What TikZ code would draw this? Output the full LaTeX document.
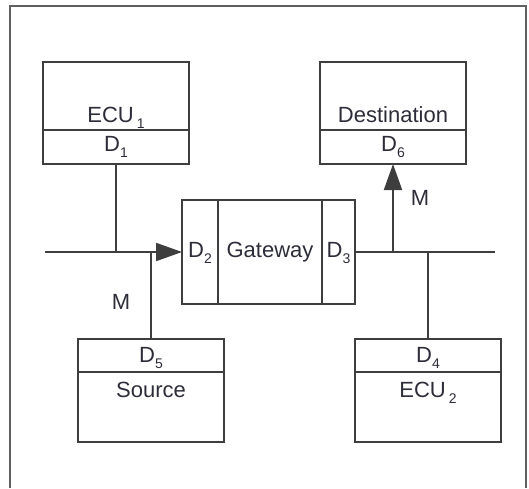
\documentclass[tikz,border=0pt]{standalone}
\usepackage{fontspec}
\setmainfont{Liberation Sans}
\usetikzlibrary{arrows.meta, positioning}
\definecolor{linegray}{RGB}{62,62,62}
\definecolor{framegray}{RGB}{95,95,95}
\definecolor{txtgray}{RGB}{45,45,58}
\newcommand{\portidx}[1]{\raisebox{-3pt}{\fontsize{7}{8}\selectfont #1}}
\tikzset{
  part/.style={draw=linegray, line width=1pt, inner sep=0pt, outer sep=0pt,
    minimum width=73pt, font=\fontsize{11}{13}\selectfont, text=txtgray},
  namepart/.style={part, text height=30pt, text depth=4pt},
  portpart/.style={part, text height=10.5pt, text depth=6.5pt},
  lowport/.style={part, text height=11.5pt, text depth=5pt},
  lowname/.style={part, text height=12.5pt, text depth=22.5pt},
  gwpart/.style={part, minimum width=0pt, text height=28.5pt, text depth=23.5pt},
  link/.style={line width=1pt, color=linegray},
  msgarrow/.style={link, -{Triangle[length=13pt, width=9pt]}},
  msglabel/.style={font=\fontsize{11}{13}\selectfont, text=txtgray, inner sep=0pt}
}

\begin{document}
\begin{tikzpicture}[x=0.5pt, y=-0.5pt]
  \useasboundingbox (0,0) rectangle (529,488);
  % Outer frame, open at the bottom
  \draw[line width=1pt, color=framegray] (10,488) -- (10,6) -- (526,6) -- (526,488);

  % Upper units
  \node[namepart, anchor=north west] (ecuAname) at (43,62) {ECU\kern1.5pt\portidx{1}};
  \node[portpart, below=0pt of ecuAname] (ecuAport) {D\portidx{1}};
  \node[namepart, anchor=north west] (dstName) at (320,62) {Destination};
  \node[portpart, below=0pt of dstName] (dstPort) {D\portidx{6}};

  % Gateway
  \node[gwpart, minimum width=52pt] (gwCore) at (270,252) {Gateway};
  \node[gwpart, minimum width=18pt, left=0pt of gwCore] (gwIn) {D\portidx{2}};
  \node[gwpart, minimum width=16.5pt, right=0pt of gwCore] (gwOut) {D\portidx{3}};

  % Lower units
  \node[lowport, anchor=north west] (srcPort) at (78,339) {D\portidx{5}};
  \node[lowname, below=0pt of srcPort] (srcName) {Source};
  \node[lowport, anchor=north west] (ecuBport) at (355,339) {D\portidx{4}};
  \node[lowname, below=0pt of ecuBport] (ecuBname) {ECU\kern1.5pt\portidx{2}};

  % Bus segments
  \coordinate (busL) at (45,252);
  \coordinate (busR) at (495,252);
  \draw[msgarrow] (busL) -- (gwIn.west);
  \draw[link] (gwOut.east) -- (busR);

  % Stubs to the bus
  \draw[link] (ecuAport.south) -- (ecuAport.south |- busL);
  \draw[link] (srcPort.north) -- (srcPort.north |- busL);
  \draw[link] (ecuBport.north) -- (ecuBport.north |- busR);
  \draw[msgarrow] (dstPort.south |- busR) -- (dstPort.south);

  % Message labels
  \node[msglabel] (msgIn) at (121,302) {M};
  \node[msglabel] (msgOut) at (420,198) {M};
\end{tikzpicture}
\end{document}
